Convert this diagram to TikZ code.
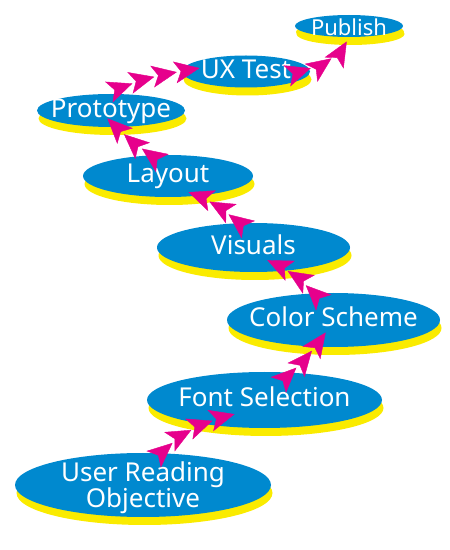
\documentclass[tikz,border=0pt]{standalone}
\usepackage{fontspec}
\setmainfont{Noto Sans}
\usetikzlibrary{shapes.geometric,shadows,decorations.markings,arrows.meta,calc}
\definecolor{stepblue}{RGB}{0,137,207}
\definecolor{stepyellow}{RGB}{250,235,0}
\definecolor{stepmagenta}{RGB}{230,0,140}
\begin{document}
\begin{tikzpicture}[x=1pt,y=1pt,
  stage/.style={ellipse, fill=stepblue, inner sep=0pt, outer sep=0pt,
    drop shadow={shadow xshift=1.5pt, shadow yshift=-8pt, fill=stepyellow, opacity=1}},
  stagelabel/.style={text=white, align=center, inner sep=0pt,
    font=\fontsize{26}{26}\selectfont, text height=19pt, text depth=5.5pt},
  headtip/.tip={Stealth[length=25pt,width=22pt,inset=6pt,color=stepmagenta]},
  heads3/.style={decoration={markings,
      mark=at position -46.5pt with {\arrow{headtip}},
      mark=at position -23.5pt with {\arrow{headtip}},
      mark=at position -0.5pt with {\arrow{headtip}}}, decorate},
  heads4/.style={decoration={markings,
      mark=at position -69.5pt with {\arrow{headtip}},
      mark=at position -46.5pt with {\arrow{headtip}},
      mark=at position -23.5pt with {\arrow{headtip}},
      mark=at position -0.5pt with {\arrow{headtip}}}, decorate}
]
\useasboundingbox (0,0) rectangle (450,550);

\node[stage, minimum width=256pt, minimum height=64pt,
  label={[stagelabel, yshift=-16pt]center:User Reading\\Objective}] (uro) at (143,65) {};
\node[stage, minimum width=235pt, minimum height=56pt,
  label={[stagelabel]center:Font Selection}] (font) at (264.5,150) {};
\node[stage, minimum width=213pt, minimum height=54pt,
  label={[stagelabel]center:Color Scheme}] (scheme) at (333.5,230) {};
\node[stage, minimum width=193pt, minimum height=49pt,
  label={[stagelabel]center:Visuals}] (visuals) at (253.5,302.5) {};
\node[stage, minimum width=170pt, minimum height=42pt,
  label={[stagelabel]center:Layout}] (layout) at (168,374) {};
\node[stage, minimum width=148pt, minimum height=33pt,
  label={[stagelabel]center:Prototype}] (proto) at (111,439.5) {};
\node[stage, minimum width=128pt, minimum height=32pt,
  label={[stagelabel]center:UX Test}] (ux) at (246,478.5) {};
\node[stage, minimum width=108pt, minimum height=22pt,
  drop shadow={shadow xshift=1pt, shadow yshift=-6pt, fill=stepyellow, opacity=1},
  label={[stagelabel, font=\fontsize{22}{24}\selectfont, text height=16pt, text depth=4.5pt, yshift=-4pt]center:Publish}] (publish) at (349,524) {};

\path[heads4] ($(uro.center)+(10,20)$) to[out=55,in=195] ($(font.center)+(-29.5,-14)$);
\path[heads3] ($(font.center)+(13.5,16)$) to[out=40,in=235] ($(scheme.center)+(-7.5,-12)$);
\path[heads3] ($(scheme.center)+(-11.5,16)$) to[out=127,in=-25] ($(visuals.center)+(13.5,-12.5)$);
\path[heads3] ($(visuals.center)+(-3.5,15.5)$) to[out=140,in=-20] ($(layout.center)+(20,-16)$);
\path[heads3] ($(layout.center)+(-5,14)$) to[out=150,in=-45] ($(proto.center)+(-4,-7.5)$);
\path[heads4] ($(proto.center)+(1,18.5)$) to[out=25,in=190] ($(ux.center)+(-46,3.5)$);
\path[heads3] ($(ux.center)+(44,-2.5)$) to[out=15,in=240] ($(publish.center)+(-2,-15)$);
\end{tikzpicture}
\end{document}
